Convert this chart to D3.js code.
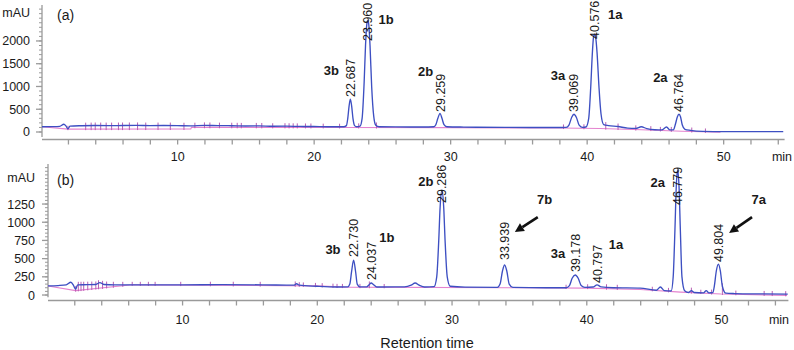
<!DOCTYPE html>
<html><head><meta charset="utf-8">
<script src="https://cdn.jsdelivr.net/npm/d3@7"></script>
<style>
body{margin:0;background:#fff}
svg{display:block}
text{font-family:"Liberation Sans",Arial,Helvetica,sans-serif;fill:#1a1a1a}
</style>
</head><body>
<svg id="chart" width="794" height="350"></svg>
<script>
// ---------- DATA ----------
const timeTicks = [2,4,6,8,10,12,14,16,18,20,22,24,26,28,30,32,34,36,38,40,42,44,46,48,50,52,54];
const timeLabels = [10,20,30,40,50];
const yMajorA = [0,500,1000,1500,2000];
const yMajorB = [0,250,500,750,1000,1250];

// Chromatogram (a): [time (min), absorbance (mAU)]
const traceA = [
 [0.1,115],[0.8,118],[1.4,125],[1.7,170],[1.85,135],[2.0,70],[2.15,130],[3,138],[4,142],[5,140],
 [6,142],[7,144],[8,140],[9,142],[10,140],[11,135],[12,145],[13,140],[14,138],[15,132],[16,134],
 [17,126],[18,128],[19,122],[20,120],[21,116],[22.2,115],
 [22.4,140],[22.5,300],[22.6,580],[22.687,720],[22.78,580],[22.88,300],[23.0,140],[23.15,115],[23.4,130],
 [23.55,300],[23.7,1100],[23.8,1900],[23.9,2380],[23.96,2450],[24.03,2380],[24.13,1900],[24.25,1000],
 [24.4,350],[24.55,150],[24.8,115],[26,112],[28,110],[28.8,115],
 [28.95,160],[29.1,300],[29.259,410],[29.4,300],[29.55,160],[29.75,115],[31,108],[34,102],[37,98],[38.5,100],
 [38.7,150],[38.9,320],[39.069,390],[39.25,320],[39.45,150],[39.7,100],[39.95,110],
 [40.15,300],[40.3,1000],[40.42,1750],[40.5,2080],[40.576,2150],[40.66,2080],[40.76,1750],[40.9,1000],
 [41.05,400],[41.25,160],[41.6,140],[42.3,120],[43,85],[43.6,80],[44,115],[44.4,75],[45,50],[45.5,45],
 [45.85,110],[46.1,45],[46.35,45],
 [46.5,170],[46.64,330],[46.764,390],[46.88,330],[47.0,160],[47.2,60],[47.6,35],[48.5,12],[50,8],[54.4,8]
];
const baselineA = [[0.1,115],[2.0,62],[11.0,66],[11.05,104],[22,100],[30,95],[38,88],[41,78],[44,50],[47,15],[49.8,-5]];
const dropTimesA = [2.0,3.3,3.7,4.0,4.4,4.8,5.2,5.7,6.0,6.5,7.1,7.7,8.6,9.5,10.5,11.3,12.0,12.4,13.1,14.0,14.4,
 14.7,15.8,16.2,17.0,17.9,18.2,18.5,18.8,19.4,19.8,20.7,21.9,23.3,24.6,38.3,39.8,41.4,42.3,43.6,44.7,45.4,46.2,47.7,48.7];
const peakTimesA = [22.687,23.960,29.259,39.069,40.576,46.764];
const peakTextA = ["22.687","23.960","29.259","39.069","40.576","46.764"];
const peakTextBaseA = [769,2000,440,440,2045,440];
const compoundsA = ["3b","1b","2b","3a","1a","2a"];
const compoundTimeA = [21.3,25.3,28.2,37.9,42.1,45.4];
const compoundLevelA = [1348,2478,1326,1239,2587,1196];

// Chromatogram (b)
const traceB = [
 [0.05,125],[0.8,130],[1.4,140],[1.75,175],[1.95,130],[2.1,80],[2.25,140],[3,142],[3.6,145],[3.9,170],[4.2,145],
 [5,140],[7,140],[10,140],[13,142],[16,140],[18.3,135],[18.5,155],[18.7,135],[20,120],[21.5,110],[22.3,112],
 [22.45,150],[22.58,320],[22.73,480],[22.88,320],[23.0,150],[23.2,112],[23.7,112],[23.9,145],[24.037,165],
 [24.2,145],[24.45,110],[26.5,112],[27.0,135],[27.3,165],[27.6,135],[28.0,110],[28.7,115],
 [28.9,250],[29.05,750],[29.15,1200],[29.286,1440],[29.42,1200],[29.52,750],[29.68,250],[29.9,120],[31,108],[33.4,105],
 [33.6,150],[33.78,330],[33.939,412],[34.1,330],[34.28,150],[34.55,105],[37,100],[38.5,100],
 [38.75,130],[38.95,230],[39.178,275],[39.4,230],[39.62,130],[39.9,105],[40.5,110],[40.797,140],[41.1,112],
 [42,100],[44,95],[45.2,65],[45.5,110],[45.8,60],[46.3,55],
 [46.45,250],[46.58,900],[46.68,1500],[46.779,1717],[46.88,1500],[46.98,900],[47.1,250],[47.3,60],[47.6,35],
 [47.8,60],[48.0,35],[48.7,30],[48.9,60],[49.1,30],[49.4,35],
 [49.5,120],[49.65,330],[49.804,425],[49.95,330],[50.1,120],[50.35,25],[51,20],[53,15],[54.95,12]
];
const baselineB = [[0.05,125],[2.1,60],[6.3,140],[20,125],[22,108],[35,100],[40,95],[44,75],[47,40],[50,15],[54.9,-5]];
const dropTimesB = [2.1,2.3,2.5,2.7,3.0,3.3,3.6,3.8,4.1,4.4,4.9,5.6,6.3,6.9,7.5,8.0,9.9,12.1,13.8,15.8,18.4,18.7,
 19.0,19.9,20.4,21.2,21.5,21.9,23.2,23.9,25.0,38.5,40.1,41.5,42.3,44.9,46.1,47.8,48.5,49.3,50.1,51.1,53.2,53.8,54.8];
const peakTimesB = [22.730,24.037,29.286,33.939,39.178,40.797,46.779,49.804];
const peakTextB = ["22.730","24.037","29.286","33.939","39.178","40.797","46.779","49.804"];
const peakTextBaseB = [522,206,1264,481,316,165,1236,453];
const compoundsB = ["3b","1b","2b","7b","3a","1a","2a","7a"];
const compoundTimeB = [21.2,25.2,28.1,36.9,37.9,42.2,45.3,52.8];
const compoundLevelB = [632,797,1566,1319,577,700,1552,1319];
const arrowTailB = [[36.4,1071],[52.3,1071]];
const arrowHeadB = [[34.7,865],[50.6,852]];

// ---------- DRAW ----------
const svg = d3.select("#chart");
const BLUE = "#3d4fc2", PINK = "#e483cf", AXIS = "#9a9a9a";

function panel(cfg){
  const g = svg.append("g");
  const x = d3.scaleLinear().domain(cfg.xDomain).range(cfg.xRange);
  const y = d3.scaleLinear().domain(cfg.yDomain).range(cfg.yRange);
  const xAxisY = cfg.xAxisY;

  // x axis
  g.append("line").attr("x1",cfg.xRange[0]).attr("x2",cfg.xRange[1])
    .attr("y1",xAxisY).attr("y2",xAxisY).attr("stroke",AXIS).attr("stroke-width",1.3);
  const xa = d3.axisBottom(x).tickValues(timeTicks).tickSize(5)
    .tickFormat(d => timeLabels.includes(d) ? String(d) : "");
  const xg = g.append("g").attr("transform",`translate(0,${xAxisY})`).call(xa);
  xg.select(".domain").remove();
  xg.selectAll(".tick line").attr("stroke",AXIS).attr("stroke-width",1.3);
  xg.selectAll(".tick text").attr("font-size","12.5px").attr("dy",cfg.xLabDy).attr("fill","#1a1a1a")
    .style("font-family",'"Liberation Sans",Arial,sans-serif');
  g.append("text").attr("x",cfg.minX).attr("y",xAxisY+8).attr("dy",cfg.xLabDy).attr("text-anchor","middle")
    .attr("font-size","12.5px").text("min");

  // y axis
  const yx = cfg.yAxisX;
  g.append("line").attr("x1",yx).attr("x2",yx).attr("y1",cfg.yRange[0]).attr("y2",cfg.yRange[1])
    .attr("stroke",AXIS).attr("stroke-width",1.3);
  const minor = d3.range(0, cfg.yDomain[1], cfg.yMinor);
  g.selectAll(".ymin").data(minor).join("line")
    .attr("x1",yx-3).attr("x2",yx).attr("y1",d=>y(d)).attr("y2",d=>y(d))
    .attr("stroke",AXIS).attr("stroke-width",1);
  g.selectAll(".ymaj").data(cfg.yMajor).join("line")
    .attr("x1",yx-6).attr("x2",yx).attr("y1",d=>y(d)).attr("y2",d=>y(d))
    .attr("stroke",AXIS).attr("stroke-width",1.3);
  g.selectAll(".ylab").data(cfg.yMajor).join("text")
    .attr("x",cfg.yLabelX).attr("y",d=>y(d)).attr("dy","0.36em").attr("text-anchor","end")
    .attr("font-size","12.5px").text(d=>d);
  g.append("text").attr("x",cfg.yLabelX).attr("y",cfg.mauY).attr("dy","0.36em").attr("text-anchor","end")
    .attr("font-size","12.5px").text("mAU");
  g.append("text").attr("x",57).attr("y",cfg.mauY+3).attr("dy","0.36em")
    .attr("font-size","14px").text(cfg.tag);

  // baseline (pink) and trace (blue)
  const line = d3.line().x(d=>x(d[0])).y(d=>y(d[1])).curve(d3.curveMonotoneX);
  const lin = d3.line().x(d=>x(d[0])).y(d=>y(d[1]));
  g.append("path").attr("d",lin(cfg.base)).attr("fill","none").attr("stroke",PINK).attr("stroke-width",1.1);

  const interp = (arr,t) => {
    const i = d3.bisector(d=>d[0]).left(arr,t);
    if(i<=0) return arr[0][1];
    if(i>=arr.length) return arr[arr.length-1][1];
    const a=arr[i-1], b=arr[i], f=(t-a[0])/(b[0]-a[0]);
    return a[1]+(b[1]-a[1])*f;
  };
  g.selectAll(".drop").data(cfg.drops).join("line")
    .attr("x1",d=>x(d)).attr("x2",d=>x(d))
    .attr("y1",d=>Math.max(y(interp(cfg.base,d)),y(interp(cfg.trace,d)))+1)
    .attr("y2",d=>Math.min(y(interp(cfg.base,d)),y(interp(cfg.trace,d)))-3)
    .attr("stroke","#b760b4").attr("stroke-width",1);

  g.append("path").attr("d",line(cfg.trace)).attr("fill","none").attr("stroke",BLUE).attr("stroke-width",1.35);

  // peak retention-time labels
  cfg.peakT.forEach((t,i)=>{
    g.append("text").attr("transform",`translate(${x(t)},${y(cfg.peakBase[i])}) rotate(-90)`)
      .attr("dy","0.36em").attr("font-size","12.5px").text(cfg.peakText[i]);
  });
  // compound labels
  cfg.comp.forEach((c,i)=>{
    g.append("text").attr("x",x(cfg.compT[i])).attr("y",y(cfg.compL[i])).attr("dy","0.36em")
      .attr("text-anchor","middle").attr("font-size","13px").attr("font-weight","bold").text(c);
  });
  // arrows
  (cfg.tails||[]).forEach((tl,i)=>{
    const hd = cfg.heads[i];
    const x1=x(tl[0]), y1=y(tl[1]), x2=x(hd[0]), y2=y(hd[1]);
    const ang = Math.atan2(y2-y1,x2-x1), L=9, W=4.5;
    const bx = x2-L*Math.cos(ang), by = y2-L*Math.sin(ang);
    g.append("line").attr("x1",x1).attr("y1",y1).attr("x2",bx).attr("y2",by)
      .attr("stroke","#111").attr("stroke-width",2.6);
    const px=-Math.sin(ang), py=Math.cos(ang);
    g.append("polygon").attr("points",
      `${x2},${y2} ${bx+px*W},${by+py*W} ${bx-px*W},${by-py*W}`).attr("fill","#111");
  });
  return {x,y};
}

panel({
  tag:"(a)", xDomain:[0.1,54.5], xRange:[42,784.6], yDomain:[-110,2790], yRange:[137,5],
  xAxisY:139.5, xLabDy:"1.05em", yAxisX:42, yLabelX:30, mauY:12, minX:782, yMinor:100, yMajor:yMajorA,
  trace:traceA, base:baselineA, drops:dropTimesA,
  peakT:peakTimesA, peakText:peakTextA, peakBase:peakTextBaseA,
  comp:compoundsA, compT:compoundTimeA, compL:compoundLevelA
});
panel({
  tag:"(b)", xDomain:[0.05,55.0], xRange:[48,788.4], yDomain:[-30,1800], yRange:[297.2,164],
  xAxisY:300.5, xLabDy:"1.2em", yAxisX:48, yLabelX:35, mauY:177, minX:779, yMinor:50, yMajor:yMajorB,
  trace:traceB, base:baselineB, drops:dropTimesB,
  peakT:peakTimesB, peakText:peakTextB, peakBase:peakTextBaseB,
  comp:compoundsB, compT:compoundTimeB, compL:compoundLevelB,
  tails:arrowTailB, heads:arrowHeadB
});
svg.append("text").attr("x",427).attr("y",348).attr("text-anchor","middle")
  .attr("font-size","14.5px").text("Retention time");
</script>
</body></html>
